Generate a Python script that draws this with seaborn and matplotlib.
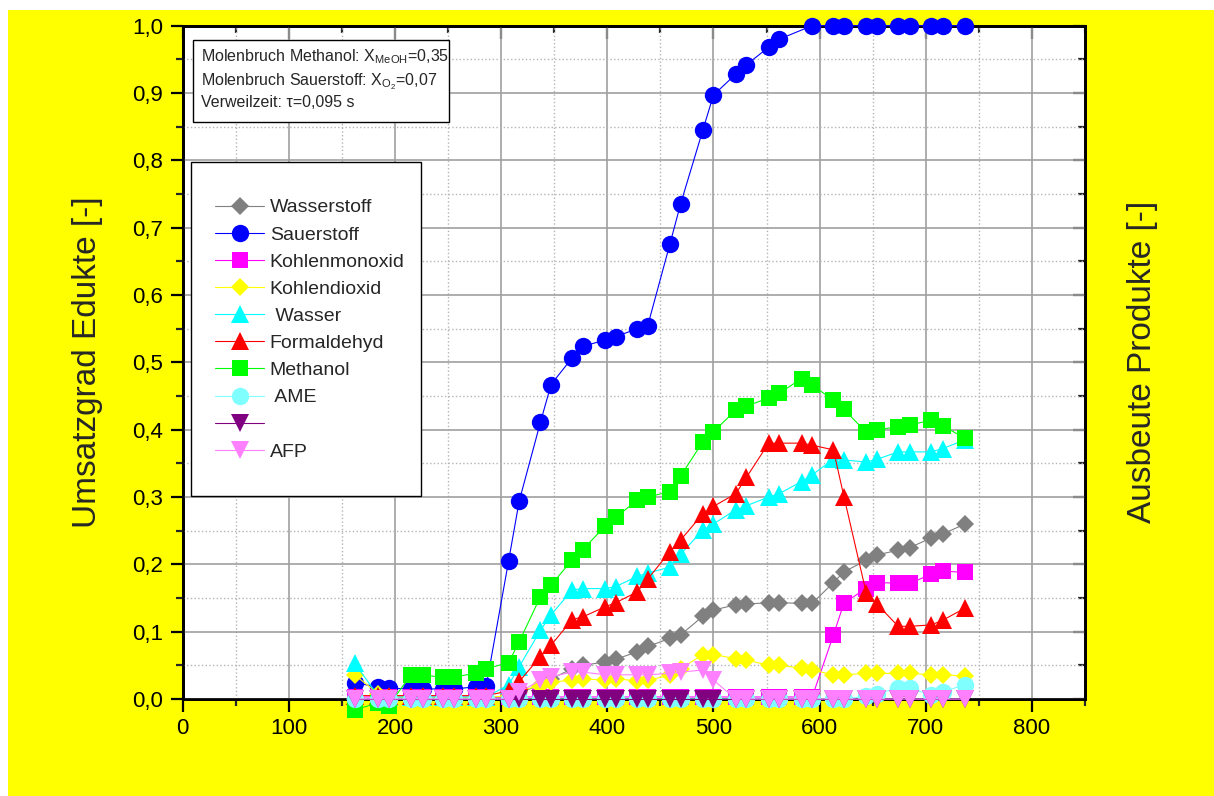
#載入套件
import numpy as np
import pandas as pd
import matplotlib
matplotlib.use('Agg')
import matplotlib.pyplot as plt
import matplotlib.ticker as mticker
from matplotlib.lines import Line2D
from matplotlib.patches import Rectangle
import seaborn as sns

# Temperatur (x) der Messpunkte
temp = [162, 184, 194, 215, 226, 245, 256, 276, 286,
        307, 317, 337, 347, 367, 377, 398, 408, 428, 438, 459, 469,
        490, 500, 521, 531, 552, 562, 583, 593,
        613, 623, 644, 654, 674, 685, 705, 716, 737]

wasserstoff = [0, 0, 0, 0, 0, 0, 0, 0, 0,
               0.005, 0.01, 0.02, 0.03, 0.045, 0.05, 0.055, 0.059, 0.07, 0.078, 0.09, 0.095,
               0.123, 0.132, 0.140, 0.141, 0.143, 0.143, 0.142, 0.142,
               0.173, 0.189, 0.206, 0.214, 0.221, 0.225, 0.239, 0.245, 0.260]
sauerstoff = [0.024, 0.018, 0.016, 0.015, 0.015, 0.015, 0.015, 0.018, 0.020,
              0.205, 0.294, 0.411, 0.467, 0.507, 0.524, 0.533, 0.538, 0.550, 0.554, 0.676, 0.735,
              0.845, 0.897, 0.928, 0.942, 0.968, 0.980, np.nan, 1.0,
              1.0, 1.0, 1.0, 1.0, 1.0, 1.0, 1.0, 1.0, 1.0]
kohlenmonoxid = [0.003] * 29 + [0.095, 0.143, 0.164, 0.173, 0.172, 0.172, 0.185, 0.190, 0.188]
kohlendioxid = [0.036, 0.008, 0.003, 0.002, 0.002, 0.002, 0.002, 0.002, 0.002,
                0.005, 0.012, 0.020, 0.025, 0.028, 0.030, 0.028, 0.030, 0.027, 0.028, 0.035, 0.045,
                0.066, 0.066, 0.060, 0.058, 0.050, 0.050, 0.046, 0.043,
                0.036, 0.036, 0.038, 0.038, 0.038, 0.038, 0.036, 0.036, 0.034]
wasser = [0.053, 0.005, 0.003, 0.003, 0.003, 0.003, 0.003, 0.003, 0.003,
          0.021, 0.048, 0.102, 0.125, 0.162, 0.164, 0.164, 0.167, 0.182, 0.187, 0.196, 0.215,
          0.251, 0.260, 0.281, 0.287, 0.300, 0.305, 0.323, 0.333,
          0.356, 0.355, 0.352, 0.356, 0.367, 0.367, 0.367, 0.372, 0.385]
formaldehyd = [0.005] * 9 + [
               0.012, 0.026, 0.063, 0.080, 0.118, 0.122, 0.137, 0.143, 0.159, 0.178, 0.219, 0.236,
               0.275, 0.286, 0.305, 0.329, 0.380, 0.380, 0.380, 0.377,
               0.370, 0.300, 0.157, 0.141, 0.108, 0.108, 0.110, 0.117, 0.135]
methanol = [-0.016, -0.006, -0.010, 0.036, 0.036, 0.032, 0.033, 0.038, 0.045,
            0.054, 0.085, 0.152, 0.169, 0.207, 0.222, 0.257, 0.270, 0.295, 0.300, 0.308, 0.331,
            0.382, 0.397, 0.429, 0.435, 0.447, 0.454, 0.476, 0.466,
            0.444, 0.430, 0.396, 0.400, 0.404, 0.407, 0.414, 0.406, 0.387]
ame = [0.0] * 31 + [0.004, 0.008, 0.016, 0.016, 0.006, 0.011, 0.021]
unbenannt = [0.0] * 38
afp = [0.0] * 9 + [
       0.0, 0.010, 0.028, 0.033, 0.040, 0.040, 0.036, 0.036, 0.036, 0.036, 0.038, 0.040,
       0.043, 0.028, 0.0, 0.0, 0.0, 0.0] + [0.0] * 11

df = pd.DataFrame({'T': temp, 'Wasserstoff': wasserstoff, 'Sauerstoff': sauerstoff,
                   'Kohlenmonoxid': kohlenmonoxid, 'Kohlendioxid': kohlendioxid,
                   'Wasser': wasser, 'Formaldehyd': formaldehyd, 'Methanol': methanol,
                   'AME': ame, 'unbenannt': unbenannt, 'AFP': afp})

# column, legend label, colour, marker, marker size
styles = [
    ('Wasserstoff', 'Wasserstoff', '#808080', 'D', 9.5),
    ('Sauerstoff', 'Sauerstoff', '#0000ff', 'o', 12.5),
    ('Kohlenmonoxid', 'Kohlenmonoxid', '#ff00ff', 's', 12),
    ('Kohlendioxid', 'Kohlendioxid', '#ffff00', 'D', 9.5),
    ('Wasser', ' Wasser', '#00ffff', '^', 13),
    ('Formaldehyd', 'Formaldehyd', '#ff0000', '^', 13),
    ('Methanol', 'Methanol', '#00ff00', 's', 12),
    ('AME', ' AME', '#80ffff', 'o', 12.5),
    ('unbenannt', '', '#800080', 'v', 13.5),
    ('AFP', 'AFP', '#ff80ff', 'v', 13.5),
]

sns.set_style('white')
plt.rcParams['font.family'] = ['Liberation Sans', 'DejaVu Sans']
plt.rcParams['mathtext.fontset'] = 'custom'
plt.rcParams['mathtext.rm'] = 'Liberation Sans'
plt.rcParams['mathtext.it'] = 'Liberation Sans:italic'

W, H = 1214, 796
fig = plt.figure(figsize=(W / 100, H / 100), dpi=100)
fig.patch.set_facecolor('white')
fig.add_artist(Rectangle((8 / W, 0), 1 - 8 / W, 1 - 10 / H, transform=fig.transFigure,
                         facecolor='#ffff00', edgecolor='none', zorder=-10))

ax = fig.add_axes([182.7 / W, 1 - 699 / H, 902.3 / W, 673.3 / H])
ax_r = ax.twinx()
ax_t = ax.twiny()
# white background on the right twin, data axis on top of both twins
ax_r.set_zorder(0)
ax_t.set_zorder(0.5)
ax.set_zorder(2)
ax.patch.set_visible(False)
ax_r.patch.set_visible(True)
ax_r.patch.set_facecolor('white')

for col, label, color, marker, ms in styles:
    d = df[['T', col]].dropna()
    sns.lineplot(data=d, x='T', y=col, ax=ax, color=color, marker=marker, markersize=ms,
                 markeredgewidth=0, linewidth=0.8, estimator=None, sort=False,
                 legend=False, clip_on=False, zorder=3)

# axes limits / ticks
for a in (ax, ax_t):
    a.set_xlim(0, 850)
    a.xaxis.set_major_locator(mticker.MultipleLocator(100))
    a.xaxis.set_minor_locator(mticker.MultipleLocator(50))
for a in (ax, ax_r):
    a.set_ylim(0, 1.0)
    a.yaxis.set_major_locator(mticker.MultipleLocator(0.1))
    a.yaxis.set_minor_locator(mticker.MultipleLocator(0.05))

ax.yaxis.set_major_formatter(mticker.FuncFormatter(lambda v, p: f'{v:.1f}'.replace('.', ',')))
ax.xaxis.set_major_formatter(mticker.FuncFormatter(lambda v, p: f'{v:.0f}'))
ax.tick_params(which='major', direction='out', length=9, width=1.6, labelsize=16,
               top=False, right=False, pad=5, colors='black')
ax.tick_params(which='minor', direction='out', length=5, width=1.6, top=False, right=False)
ax_t.tick_params(which='major', direction='in', length=9, width=1.6, labeltop=False)
ax_t.tick_params(which='minor', direction='in', length=5, width=1.6)
ax_r.tick_params(which='major', direction='in', length=9, width=1.6, labelright=False)
ax_r.tick_params(which='minor', direction='in', length=5, width=1.6)

ax.grid(which='major', color='#a0a0a0', linewidth=1.2)
ax.grid(which='minor', color='#b4b4b4', linestyle=':', linewidth=1)

for a in (ax, ax_r, ax_t):
    for s in a.spines.values():
        s.set_linewidth(1.8)
        s.set_color('black')

ax.set_xlabel('')
ax.set_ylabel('Umsatzgrad Edukte [-]', fontsize=24)
ax.yaxis.set_label_coords(-0.088, 0.5)
ax_r.set_ylabel('Ausbeute Produkte [-]', fontsize=24)
ax_r.yaxis.set_label_coords(1.046, 0.5)

# Legend with a manual frame
fig.add_artist(Rectangle((191 / W, 1 - 496 / H), 230 / W, 334 / H, transform=fig.transFigure,
                         facecolor='white', edgecolor='black', linewidth=1, zorder=5))
handles = [Line2D([], [], color=c, marker=m, markersize=ms, markeredgewidth=0, linewidth=0.8)
           for _, _, c, m, ms in styles]
labels = [lab for _, lab, _, _, _ in styles]
leg = fig.legend(handles, labels, loc='center left', bbox_to_anchor=(215 / W, 1 - 329.7 / H),
                 frameon=False, fontsize=14, handlelength=2.52, handletextpad=0.29,
                 labelspacing=0.49, borderpad=0, borderaxespad=0, numpoints=1)
leg.set_zorder(10)

# Info box
fig.add_artist(Rectangle((192.7 / W, 1 - 122 / H), 256.3 / W, 82 / H, transform=fig.transFigure,
                         facecolor='white', edgecolor='black', linewidth=1, zorder=5))
info = ['Molenbruch Methanol: X$_{\\mathrm{MeOH}}$=0,35',
        'Molenbruch Sauerstoff: X$_{\\mathrm{O_2}}$=0,07',
        'Verweilzeit: τ=0,095 s']
for txt, yb in zip(info, [61.7, 85, 107.3]):
    fig.text(200.7 / W, 1 - yb / H, txt, fontsize=11.5, va='baseline', ha='left', zorder=6)

fig.savefig('out.png', dpi=100)
